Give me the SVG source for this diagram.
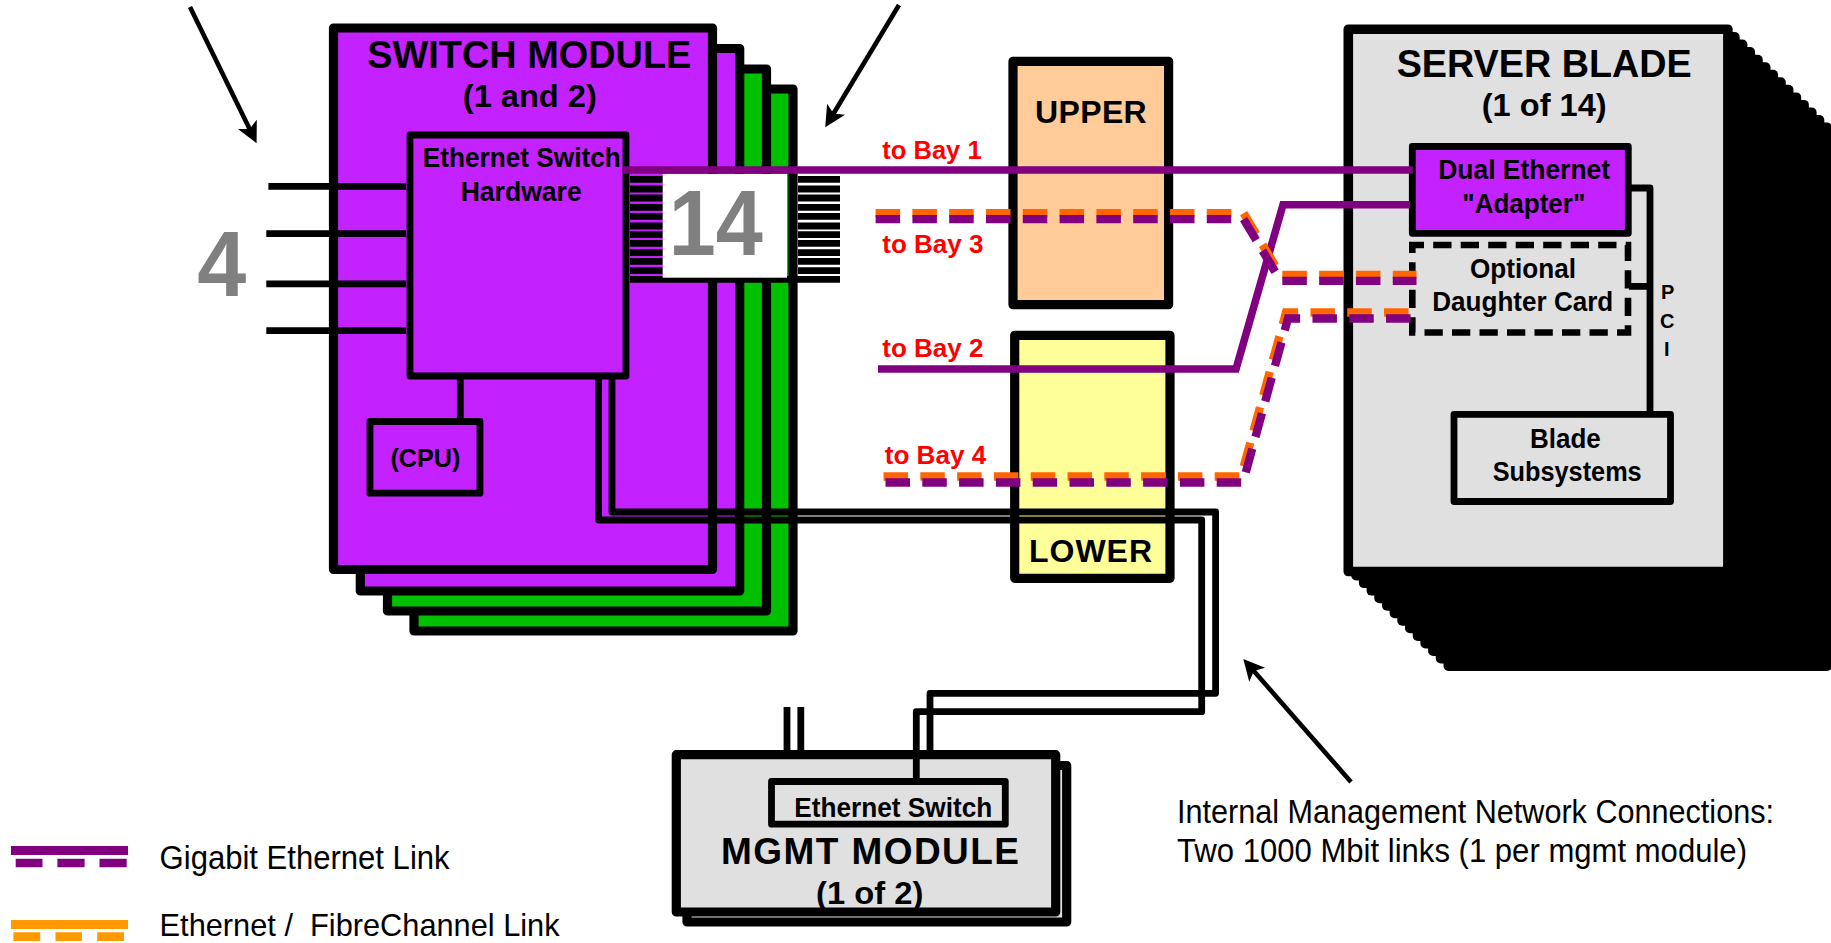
<svg xmlns="http://www.w3.org/2000/svg" width="1831" height="943" viewBox="0 0 1831 943">
<style>
text{font-family:"Liberation Sans",Arial,sans-serif;fill:#000}
.b{font-weight:700;text-anchor:start}
.s27{font-size:27px}.s32{font-size:32px}.s33{font-size:33px}.s37{font-size:37px}.s38{font-size:38px}
.box{stroke:#000;stroke-width:9.2;stroke-linejoin:round}
.thin{stroke:#000;stroke-width:6.8;stroke-linejoin:round}
.vio{fill:#c322ff}.grn{fill:#00c000}.gry{fill:#e0e0e0}
.ln{fill:none;stroke:#000;stroke-width:6.8;stroke-linejoin:round}
.pur{fill:none;stroke:#800080;stroke-width:7.6;stroke-linejoin:miter}
.dp{fill:none;stroke:#800080;stroke-width:8.3;stroke-dasharray:24.5 12.3}
.do{fill:none;stroke:#ff6600;stroke-width:8.3;stroke-dasharray:24.5 12.3}
.red{fill:#f00;font-weight:700;font-size:26px}
.big{fill:#808080;font-weight:700;font-size:92px;text-anchor:middle}
.arr{fill:none;stroke:#000;stroke-width:4.6}
</style>
<defs>
<marker id="head" markerUnits="userSpaceOnUse" viewBox="0 0 24 22" markerWidth="24" markerHeight="22" refX="12" refY="11" orient="auto">
<path d="M22,11 L1,0.5 L6,11 L1,21.5 Z" fill="#000"/>
</marker>
<rect id="layer" x="1343.5" y="24.5" width="388.5" height="548.5" rx="5" fill="#000"/>
</defs>

<g id="switch-module-4"><rect class="box grn" x="414" y="89" width="379" height="542"/></g>
<g id="switch-module-3"><rect class="box grn" x="387.5" y="69" width="379" height="542"/></g>
<g id="switch-module-2"><rect class="box vio" x="360.3" y="48.5" width="379.4" height="542.5"/></g>
<g id="switch-module-1">
<rect class="box vio" x="333.5" y="28" width="379" height="541.5"/>
<text class="b s38" x="367.3" y="68.3" textLength="324" lengthAdjust="spacingAndGlyphs">SWITCH MODULE</text>
<text class="b s32" x="462.8" y="106.7" textLength="134" lengthAdjust="spacingAndGlyphs">(1 and 2)</text>
</g>
<g id="switch-hardware">
<rect class="thin vio" x="410" y="135" width="216" height="241"/>
<text class="b s27" x="422.8" y="167.3" textLength="198" lengthAdjust="spacingAndGlyphs">Ethernet Switch</text>
<text class="b s27" x="460.7" y="200.7" textLength="121" lengthAdjust="spacingAndGlyphs">Hardware</text>
</g>
<g id="cpu">
<rect class="thin vio" x="370" y="421.5" width="110" height="71.7"/>
<text class="b" font-size="26" x="390.4" y="466.7" textLength="70" lengthAdjust="spacingAndGlyphs">(CPU)</text>
</g>
<g id="upper">
<rect class="box" fill="#ffcc99" x="1013" y="61.3" width="155.6" height="243.4"/>
<text class="b s32" x="1035" y="123.3" textLength="111.7">UPPER</text>
</g>
<g id="lower">
<rect class="box" fill="#ffff99" x="1014.7" y="335.3" width="155.3" height="243"/>
<text class="b s32" x="1029" y="561.7" textLength="123">LOWER</text>
</g>
<g id="server-blade">
<use href="#layer" x="100" y="98"/><use href="#layer" x="92.3" y="90.5"/><use href="#layer" x="84.6" y="82.9"/><use href="#layer" x="76.9" y="75.4"/><use href="#layer" x="69.2" y="67.9"/><use href="#layer" x="61.5" y="60.3"/><use href="#layer" x="53.8" y="52.8"/><use href="#layer" x="46.1" y="45.2"/><use href="#layer" x="38.5" y="37.7"/><use href="#layer" x="30.8" y="30.2"/><use href="#layer" x="23.1" y="22.6"/><use href="#layer" x="15.4" y="15.1"/><use href="#layer" x="7.7" y="7.5"/>
<rect class="box gry" style="stroke-width:9.6" x="1348.3" y="29.2" width="379.6" height="542.3"/>
<text class="b s38" x="1396.7" y="76.7" textLength="295" lengthAdjust="spacingAndGlyphs">SERVER BLADE</text>
<text class="b s32" x="1481.7" y="115.7" textLength="125" lengthAdjust="spacingAndGlyphs">(1 of 14)</text>
</g>
<g id="adapter">
<rect class="thin vio" x="1412.3" y="146.5" width="216" height="86.8"/>
<text class="b s27" x="1438.3" y="179.3" textLength="171.7" lengthAdjust="spacingAndGlyphs">Dual Ethernet</text>
<text class="b s27" x="1462.3" y="212.7" textLength="123" lengthAdjust="spacingAndGlyphs">"Adapter"</text>
</g>
<g id="daughter-card">
<rect class="gry" x="1412.3" y="245" width="215.7" height="87.5" stroke="#000" stroke-width="6.6" stroke-dasharray="18.3 9.2" stroke-dashoffset="6.6"/>
<text class="b s27" x="1470" y="278" textLength="106" lengthAdjust="spacingAndGlyphs">Optional</text>
<text class="b s27" x="1432.3" y="311" textLength="181" lengthAdjust="spacingAndGlyphs">Daughter Card</text>
</g>
<g id="blade-subsystems">
<rect class="thin gry" x="1454" y="414.3" width="216.5" height="87.2"/>
<text class="b s27" x="1530" y="447.7" textLength="70.7" lengthAdjust="spacingAndGlyphs">Blade</text>
<text class="b s27" x="1492.7" y="480.7" textLength="149" lengthAdjust="spacingAndGlyphs">Subsystems</text>
</g>
<g id="mgmt-module">
<rect class="box gry" x="687" y="765.5" width="379.7" height="156.5"/>
<rect class="box gry" x="676.3" y="754.7" width="379.4" height="157.3"/>
<rect class="thin gry" x="771.5" y="781.5" width="233.8" height="42.7"/>
<text class="b s27" x="794.3" y="816.7" textLength="198" lengthAdjust="spacingAndGlyphs">Ethernet Switch</text>
<text class="b s37" x="721" y="864.3" textLength="298">MGMT MODULE</text>
<text class="b s32" x="816" y="904" textLength="107.3" lengthAdjust="spacingAndGlyphs">(1 of 2)</text>
</g>

<g id="connectors">
<path class="ln" d="M268.4 186.3H406M266.3 233.6H406M266.3 283.8H406M266.3 330.6H406"/>
<path class="ln" d="M630 179.3H663M798 179.3H840M630 189H663M798 189H840M630 198H663M798 198H840M630 207.3H663M798 207.3H840M630 216.3H663M798 216.3H840M630 226H663M798 226H840M630 234.7H663M798 234.7H840M630 243.3H663M798 243.3H840M630 252.7H663M798 252.7H840M630 261.3H663M798 261.3H840M630 270.7H663M798 270.7H840M630 279.3H840"/>
<path class="ln" d="M460.3 378V420"/>
<path class="ln" d="M612 378V512H1215.6V693.3H930V752"/>
<path class="ln" d="M598.6 378V520H1201.7V711.7H916.3V780"/>
<path class="ln" stroke-width="6" d="M787 707V752M800.8 707V752"/>
<path class="ln" d="M1625 188H1650V412M1629 286.3H1650"/>
<path class="pur" d="M622.8 170H1412.7"/>
<path class="pur" d="M878 369H1236L1283 204.8H1410"/>
<path class="do" d="M875.6 219.2H1243.6L1280.6 280.8H1416.5" transform="translate(0,-6)"/>
<path class="dp" d="M875.6 219.2H1243.6L1280.6 280.8H1416.5"/>
<path class="do" d="M885.5 482.5H1243L1288 318.5H1412" transform="translate(-2,-6)"/>
<path class="dp" d="M885.5 482.5H1243L1288 318.5H1412"/>
<path class="arr" marker-end="url(#head)" d="M190 7L252.2 134.3"/>
<path class="arr" marker-end="url(#head)" d="M899 5L830.4 118.7"/>
<path class="arr" marker-end="url(#head)" d="M1351 782L1249.9 666.5"/>
</g>

<g id="port-label">
<rect x="662.7" y="174" width="124.3" height="103.7" fill="#fff"/>
<text class="big" x="715.8" y="255" textLength="94" lengthAdjust="spacingAndGlyphs">14</text>
</g>
<g id="labels">
<text class="big" x="221.8" y="295.7" textLength="49" lengthAdjust="spacingAndGlyphs">4</text>
<text class="red" x="882.3" y="159.3" textLength="99.3" lengthAdjust="spacingAndGlyphs">to Bay 1</text>
<text class="red" x="882.3" y="252.7" textLength="101.2" lengthAdjust="spacingAndGlyphs">to Bay 3</text>
<text class="red" x="882.3" y="357.3" textLength="101.2" lengthAdjust="spacingAndGlyphs">to Bay 2</text>
<text class="red" x="884.7" y="464" textLength="101.6" lengthAdjust="spacingAndGlyphs">to Bay 4</text>
<text class="b" font-size="20" x="1661" y="299.3">P</text>
<text class="b" font-size="20" x="1660" y="327.7">C</text>
<text class="b" font-size="20" x="1664" y="355.7">I</text>
<text class="s33" x="1177" y="823.3" textLength="597" lengthAdjust="spacingAndGlyphs">Internal Management Network Connections:</text>
<text class="s33" x="1177" y="861.7" textLength="570" lengthAdjust="spacingAndGlyphs">Two 1000 Mbit links (1 per mgmt module)</text>
</g>
<g id="legend">
<rect x="11" y="846" width="117" height="9" fill="#800080"/>
<path d="M15.7 858.7h26.8v8.6h-26.8zM57.4 858.7h27.2v8.6h-27.2zM99.5 858.7h27.2v8.6h-27.2z" fill="#800080"/>
<text class="s33" x="159.6" y="869" textLength="290" lengthAdjust="spacingAndGlyphs">Gigabit Ethernet Link</text>
<rect x="11" y="920" width="117" height="9" fill="#ff9900"/>
<path d="M13.4 932.3h26.8v8.7h-26.8zM55.5 932.3h26.4v8.7h-26.4zM97.2 932.3h26.8v8.7h-26.8z" fill="#ff9900"/>
<text class="s32" x="159.6" y="936" textLength="400" lengthAdjust="spacingAndGlyphs" xml:space="preserve">Ethernet /  FibreChannel Link</text>
</g>
</svg>
